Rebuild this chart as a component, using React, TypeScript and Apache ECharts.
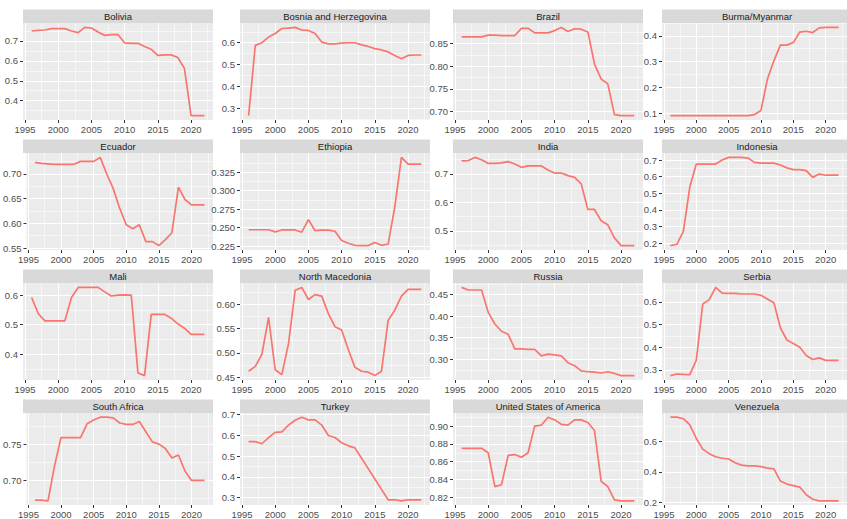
import React, { useEffect, useRef } from "react";
import * as echarts from "echarts";

const years = [1996, 1997, 1998, 1999, 2000, 2001, 2002, 2003, 2004, 2005, 2006, 2007, 2008, 2009, 2010, 2011, 2012, 2013, 2014, 2015, 2016, 2017, 2018, 2019, 2020, 2021, 2022];

const xTickLabels = ["1995", "2000", "2005", "2010", "2015", "2020"];

const countries = [
  "Bolivia", "Bosnia and Herzegovina", "Brazil", "Burma/Myanmar",
  "Ecuador", "Ethiopia", "India", "Indonesia",
  "Mali", "North Macedonia", "Russia", "Serbia",
  "South Africa", "Turkey", "United States of America", "Venezuela",
];

const bolivia = [0.75, 0.753, 0.755, 0.762, 0.762, 0.762, 0.75, 0.742, 0.768, 0.765, 0.745, 0.728, 0.732, 0.732, 0.69, 0.688, 0.688, 0.672, 0.658, 0.628, 0.63, 0.63, 0.617, 0.562, 0.325, 0.325, 0.325];
const bosnia = [0.267, 0.588, 0.6, 0.626, 0.642, 0.665, 0.667, 0.67, 0.658, 0.656, 0.642, 0.603, 0.595, 0.595, 0.598, 0.6, 0.6, 0.59, 0.583, 0.573, 0.567, 0.558, 0.542, 0.527, 0.542, 0.544, 0.544];
const brazil = [0.865, 0.865, 0.865, 0.865, 0.869, 0.869, 0.868, 0.868, 0.868, 0.884, 0.884, 0.874, 0.874, 0.874, 0.879, 0.886, 0.877, 0.883, 0.882, 0.876, 0.805, 0.772, 0.761, 0.693, 0.691, 0.691, 0.691];
const burma = [0.09, 0.09, 0.09, 0.09, 0.09, 0.09, 0.09, 0.09, 0.09, 0.09, 0.09, 0.09, 0.09, 0.094, 0.11, 0.232, 0.303, 0.364, 0.364, 0.374, 0.415, 0.418, 0.413, 0.431, 0.433, 0.433, 0.433];
const ecuador = [0.723, 0.721, 0.72, 0.719, 0.719, 0.719, 0.719, 0.725, 0.725, 0.725, 0.733, 0.7, 0.67, 0.63, 0.597, 0.589, 0.597, 0.563, 0.563, 0.555, 0.567, 0.581, 0.673, 0.648, 0.637, 0.637, 0.637];
const ethiopia = [0.2473, 0.2473, 0.2473, 0.2473, 0.2444, 0.247, 0.247, 0.247, 0.244, 0.261, 0.246, 0.2467, 0.2467, 0.2453, 0.2329, 0.229, 0.2263, 0.2259, 0.2259, 0.2302, 0.2263, 0.228, 0.278, 0.345, 0.336, 0.336, 0.336];
const india = [0.746, 0.747, 0.758, 0.75, 0.737, 0.737, 0.739, 0.743, 0.735, 0.723, 0.728, 0.728, 0.728, 0.714, 0.703, 0.703, 0.694, 0.688, 0.665, 0.575, 0.575, 0.535, 0.521, 0.475, 0.448, 0.448, 0.448];
const indonesia = [0.186, 0.194, 0.271, 0.538, 0.676, 0.676, 0.676, 0.676, 0.7, 0.716, 0.716, 0.716, 0.712, 0.686, 0.682, 0.682, 0.682, 0.67, 0.653, 0.643, 0.643, 0.637, 0.596, 0.616, 0.609, 0.609, 0.609];
const mali = [0.592, 0.537, 0.513, 0.513, 0.513, 0.513, 0.592, 0.626, 0.626, 0.626, 0.626, 0.611, 0.597, 0.6, 0.601, 0.6, 0.337, 0.328, 0.535, 0.535, 0.535, 0.522, 0.503, 0.488, 0.467, 0.467, 0.467];
const northMacedonia = [0.462, 0.472, 0.497, 0.573, 0.465, 0.455, 0.519, 0.629, 0.635, 0.61, 0.62, 0.617, 0.581, 0.554, 0.547, 0.507, 0.47, 0.462, 0.46, 0.453, 0.462, 0.567, 0.588, 0.617, 0.631, 0.631, 0.631];
const russia = [0.467, 0.461, 0.461, 0.461, 0.409, 0.382, 0.365, 0.358, 0.324, 0.324, 0.323, 0.323, 0.308, 0.312, 0.31, 0.308, 0.292, 0.285, 0.273, 0.271, 0.27, 0.268, 0.271, 0.267, 0.262, 0.262, 0.262];
const serbia = [0.275, 0.282, 0.28, 0.279, 0.343, 0.591, 0.61, 0.664, 0.639, 0.638, 0.638, 0.635, 0.635, 0.635, 0.629, 0.613, 0.596, 0.486, 0.432, 0.417, 0.4, 0.364, 0.346, 0.353, 0.342, 0.342, 0.342];
const southAfrica = [0.673, 0.673, 0.672, 0.72, 0.759, 0.759, 0.759, 0.759, 0.778, 0.783, 0.787, 0.787, 0.786, 0.779, 0.777, 0.777, 0.781, 0.767, 0.753, 0.75, 0.744, 0.731, 0.735, 0.713, 0.7, 0.7, 0.7];
const turkey = [0.57, 0.57, 0.56, 0.59, 0.615, 0.617, 0.65, 0.673, 0.688, 0.675, 0.675, 0.65, 0.6, 0.59, 0.565, 0.55, 0.54, 0.49, 0.44, 0.39, 0.34, 0.29, 0.29, 0.285, 0.29, 0.29, 0.29];
const usa = [0.875, 0.875, 0.875, 0.875, 0.87, 0.832, 0.834, 0.867, 0.868, 0.865, 0.87, 0.9, 0.901, 0.91, 0.907, 0.902, 0.901, 0.907, 0.907, 0.904, 0.895, 0.838, 0.832, 0.817, 0.816, 0.816, 0.816];
const venezuela = [0.76, 0.76, 0.75, 0.71, 0.62, 0.55, 0.52, 0.5, 0.49, 0.485, 0.46, 0.445, 0.44, 0.44, 0.435, 0.425, 0.42, 0.34, 0.32, 0.31, 0.3, 0.25, 0.22, 0.21, 0.21, 0.21, 0.21];

const seriesValues = [bolivia, bosnia, brazil, burma, ecuador, ethiopia, india, indonesia, mali, northMacedonia, russia, serbia, southAfrica, turkey, usa, venezuela];

const yTickLabels = [
  ["0.4", "0.5", "0.6", "0.7"],
  ["0.3", "0.4", "0.5", "0.6"],
  ["0.70", "0.75", "0.80", "0.85"],
  ["0.1", "0.2", "0.3", "0.4"],
  ["0.55", "0.60", "0.65", "0.70"],
  ["0.225", "0.250", "0.275", "0.300", "0.325"],
  ["0.5", "0.6", "0.7"],
  ["0.2", "0.3", "0.4", "0.5", "0.6", "0.7"],
  ["0.4", "0.5", "0.6"],
  ["0.45", "0.50", "0.55", "0.60"],
  ["0.30", "0.35", "0.40", "0.45"],
  ["0.3", "0.4", "0.5", "0.6"],
  ["0.70", "0.75"],
  ["0.3", "0.4", "0.5", "0.6", "0.7"],
  ["0.82", "0.84", "0.86", "0.88", "0.90"],
  ["0.2", "0.4", "0.6"],
];

const COL_LEFT = [23, 240, 453, 662];
const ROW_TOP = [23, 153, 283, 413];
const PW = 190;
const PH = 97;
const STRIP_H = 13.5;
const FONT = "'Liberation Sans', Arial, Helvetica, sans-serif";

function expand(lo: number, hi: number): [number, number] {
  const d = (hi - lo) * 0.05;
  return [lo - d, hi + d];
}

function minorBreaks(majors: number[], lo: number, hi: number): number[] {
  const step = majors[1] - majors[0];
  const ext = [majors[0] - step, ...majors, majors[majors.length - 1] + step];
  const out: number[] = [];
  for (let i = 0; i < ext.length - 1; i++) {
    const m = (ext[i] + ext[i + 1]) / 2;
    if (m >= lo && m <= hi) out.push(m);
  }
  return out;
}

function buildOption() {
  const grids: any[] = [];
  const xAxes: any[] = [];
  const yAxes: any[] = [];
  const series: any[] = [];
  const graphics: any[] = [];

  const xMajors = xTickLabels.map(Number);
  const [xLo, xHi] = expand(years[0], years[years.length - 1]);
  const xMinors = minorBreaks(xMajors, xLo, xHi);

  countries.forEach((name, i) => {
    const col = i % 4;
    const row = Math.floor(i / 4);
    const left = COL_LEFT[col];
    const top = ROW_TOP[row];
    grids.push({
      left, top, width: PW, height: PH,
      show: true, backgroundColor: "#EBEBEB", borderWidth: 0,
    });
    const vals = seriesValues[i];
    const [yLo, yHi] = expand(Math.min(...vals), Math.max(...vals));
    const labels = yTickLabels[i];
    const yMajors = labels.map(Number);
    const decimals = labels[0].split(".")[1]?.length ?? 0;
    const yMinors = minorBreaks(yMajors, yLo, yHi);

    // major x
    xAxes.push({
      type: "value", gridIndex: i, min: xLo, max: xHi, position: "bottom",
      axisLine: { show: false },
      axisTick: { show: true, length: 3, customValues: xMajors, lineStyle: { color: "#333333", width: 1 } },
      axisLabel: {
        show: true, customValues: xMajors, margin: 4, color: "#4D4D4D", fontSize: 9.5, fontFamily: FONT,
        formatter: (v: number) => String(Math.round(v)),
      },
      splitLine: { show: true, lineStyle: { color: "#FFFFFF", width: 1.1 } },
      z: 1,
    });
    // minor x
    xAxes.push({
      type: "value", gridIndex: i, min: xLo, max: xHi, position: "bottom",
      axisLine: { show: false },
      axisTick: { show: false, customValues: xMinors },
      axisLabel: { show: false },
      splitLine: { show: true, lineStyle: { color: "#FFFFFF", width: 0.55 } },
      z: 0,
    });
    yAxes.push({
      type: "value", gridIndex: i, min: yLo, max: yHi, position: "left",
      axisLine: { show: false },
      axisTick: { show: true, length: 3, customValues: yMajors, lineStyle: { color: "#333333", width: 1 } },
      axisLabel: {
        show: true, customValues: yMajors, margin: 5, color: "#4D4D4D", fontSize: 9.5, fontFamily: FONT,
        formatter: (v: number) => v.toFixed(decimals),
      },
      splitLine: { show: true, lineStyle: { color: "#FFFFFF", width: 1.1 } },
      z: 1,
    });
    yAxes.push({
      type: "value", gridIndex: i, min: yLo, max: yHi, position: "left",
      axisLine: { show: false },
      axisTick: { show: false, customValues: yMinors },
      axisLabel: { show: false },
      splitLine: { show: true, lineStyle: { color: "#FFFFFF", width: 0.55 } },
      z: 0,
    });

    series.push({
      type: "line", name, xAxisIndex: 2 * i, yAxisIndex: 2 * i,
      data: years.map((y, k) => [y, vals[k]]),
      showSymbol: false, symbol: "none",
      lineStyle: { color: "#F8766D", width: 1.7 },
      itemStyle: { color: "#F8766D" },
      z: 5,
    });

    graphics.push({
      type: "rect",
      shape: { x: left, y: top - STRIP_H, width: PW, height: STRIP_H },
      style: { fill: "#D9D9D9" },
      silent: true,
    });
    graphics.push({
      type: "text",
      x: left + PW / 2,
      y: top - STRIP_H / 2,
      style: {
        text: name, align: "center", verticalAlign: "middle",
        fill: "#1A1A1A", fontSize: 9.5, fontFamily: FONT,
      },
      silent: true,
    });
  });

  return {
    animation: false,
    backgroundColor: "#FFFFFF",
    grid: grids,
    xAxis: xAxes,
    yAxis: yAxes,
    series,
    graphic: graphics,
  };
}

export default function App() {
  const ref = useRef<HTMLDivElement>(null);
  useEffect(() => {
    if (!ref.current) return;
    const chart = echarts.init(ref.current, undefined, { renderer: "svg" });
    chart.setOption(buildOption() as any);
    return () => chart.dispose();
  }, []);
  return (
    <div
      ref={ref}
      style={{ position: "fixed", left: 0, top: 0, width: 847, height: 519, background: "#FFFFFF" }}
    />
  );
}
